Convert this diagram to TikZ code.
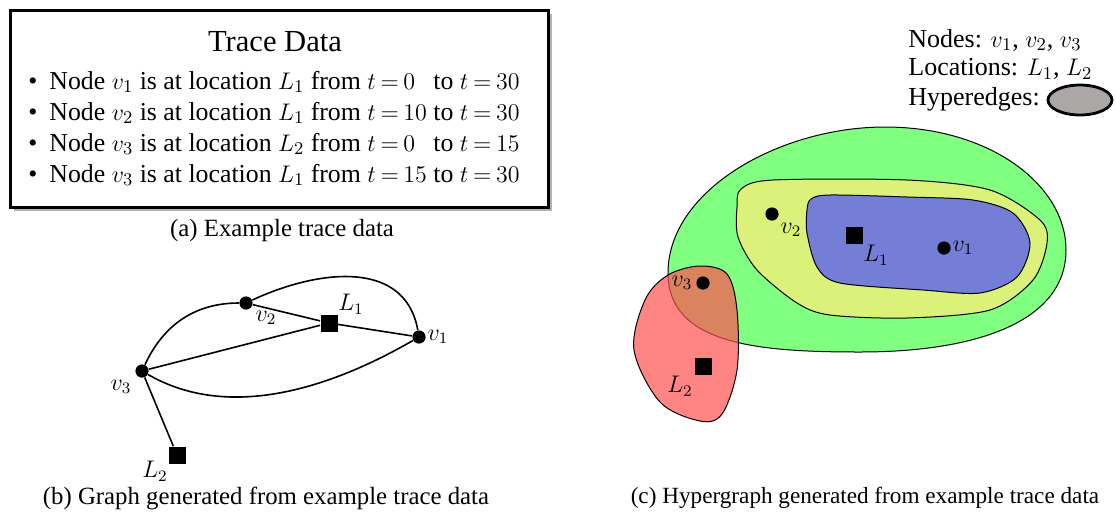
\documentclass[tikz,border=0pt]{standalone}
\usepackage{fontspec}
\setmainfont{Liberation Serif}
\usetikzlibrary{shapes.geometric}
\definecolor{hgreen}{RGB}{128,255,128}
\definecolor{hyellow}{RGB}{220,241,122}
\definecolor{hblue}{RGB}{116,126,214}
\definecolor{hred}{RGB}{255,80,80}
\definecolor{hgray}{RGB}{172,168,168}
\newcommand\bulletfont{\fontsize{12.9}{15}\selectfont\thickmuskip=3.5mu\relax}
\tikzset{
  dotnode/.style={circle,fill=black,inner sep=0pt,minimum size=6.6pt},
  sqnode/.style={rectangle,fill=black,inner sep=0pt,minimum size=8.5pt},
  lbl/.style={inner sep=0pt,font=\fontsize{12}{14}\selectfont},
  captext/.style={inner sep=0pt,font=\fontsize{12.4}{14}\selectfont},
  bul/.style={inner sep=0pt,anchor=west,font=\bulletfont},
  legtext/.style={inner sep=0pt,anchor=west,font=\fontsize{13}{15}\selectfont},
  gline/.style={line width=0.8pt},
  blob/.style={draw=black,line width=0.5pt},
}
\begin{document}
\begin{tikzpicture}[x=0.5pt,y=-0.5pt]
\useasboundingbox (0,0) rectangle (1116,516);

% ---- (a) trace data box ----
\fill[gray!60] (14,14) rectangle (552,211);
\draw[line width=1.5pt,fill=white] (10,10) rectangle (548,207);
\node[inner sep=0pt,font=\fontsize{15.3}{18}\selectfont] (title) at (275,42) {Trace Data};
\node[bul] (r1) at (28,82)  {\textbullet\hspace{6pt}Node $v_1$ is at location $L_1$ from $t=0\phantom{0}$ to $t=30$};
\node[bul] (r2) at (28,113) {\textbullet\hspace{6pt}Node $v_2$ is at location $L_1$ from $t=10$ to $t=30$};
\node[bul] (r3) at (28,144) {\textbullet\hspace{6pt}Node $v_3$ is at location $L_2$ from $t=0\phantom{0}$ to $t=15$};
\node[bul] (r4) at (28,175) {\textbullet\hspace{6pt}Node $v_3$ is at location $L_1$ from $t=15$ to $t=30$};
\node[captext] (capa) at (282,231) {(a) Example trace data};

% ---- (b) graph ----
\node[dotnode] (bv2) at (246,303) {};
\node[sqnode]  (bL1) at (329,323) {};
\node[dotnode] (bv1) at (419,337) {};
\node[dotnode] (bv3) at (142,371) {};
\node[sqnode]  (bL2) at (177,455) {};
\node[lbl] at (266,318) {$v_2$};
\node[lbl] at (351,304) {$L_1$};
\node[lbl] at (438,337) {$v_1$};
\node[lbl] at (121,387) {$v_3$};
\node[lbl] at (155,471) {$L_2$};
\draw[gline] (bv2) -- (bL1);
\draw[gline] (bL1) -- (bv1);
\draw[gline] (bv3) -- (bL1);
\draw[gline] (bv3) -- (bL2);
\draw[gline] (bv3) to[out=65,in=180,looseness=1.0] (bv2);
\draw[gline] (bv2) to[out=25,in=100,looseness=1.1] (bv1);
\draw[gline] (bv3) to[out=-30,in=210,looseness=0.9] (bv1);
\node[captext] (capb) at (266,498) {(b) Graph generated from example trace data};

% ---- (c) hypergraph ----
\draw[blob,fill=hgreen] (668,273)
  .. controls (668,190) and (780,127) .. (885,127)
  .. controls (990,127) and (1066,185) .. (1066,250)
  .. controls (1066,320) and (980,352) .. (860,352)
  .. controls (760,352) and (668,345) .. (668,273) -- cycle;
\draw[blob,fill=hyellow] plot[smooth cycle,tension=0.5] coordinates {
  (741,189) (773,180) (907,180) (990,190) (1040,220) (1047,243) (1033,280)
  (990,310) (907,318) (830,315) (797,303) (757,270) (738,237) (737,207)};
\draw[blob,fill=hblue] plot[smooth cycle,tension=0.5] coordinates {
  (811,199) (830,195) (907,197) (973,200) (1013,213) (1030,243) (1017,277)
  (980,293) (923,290) (840,283) (817,267) (807,233) (807,210)};
\draw[blob,fill=hred,fill opacity=0.7] plot[smooth cycle,tension=0.55] coordinates {
  (700,266) (727,274) (737,310) (737,370) (722,414) (700,421) (660,402)
  (634,350) (645,300) (668,275)};
\node[dotnode] (cv2) at (772,214) {};
\node[sqnode]  (cL1) at (854,235) {};
\node[dotnode] (cv1) at (944,248) {};
\node[dotnode] (cv3) at (703,283) {};
\node[sqnode]  (cL2) at (703,366) {};
\node[lbl] at (791,230) {$v_2$};
\node[lbl] at (876,255) {$L_1$};
\node[lbl] at (963,248) {$v_1$};
\node[lbl] at (682,283) {$v_3$};
\node[lbl] at (680,386) {$L_2$};
\node[captext,font=\fontsize{11.6}{14}\selectfont] (capc) at (865,498) {(c) Hypergraph generated from example trace data};

% ---- legend ----
\node[legtext] (lg1) at (908,40) {Nodes: $v_1$, $v_2$, $v_3$};
\node[legtext] (lg2) at (908,69) {Locations: $L_1$, $L_2$};
\node[legtext] (lg3) at (908,99) {Hyperedges:};
\node[ellipse,draw=black,line width=1.4pt,fill=hgray,minimum width=32pt,minimum height=15pt,inner sep=0pt] (lge) at (1080,100) {};
\end{tikzpicture}
\end{document}
